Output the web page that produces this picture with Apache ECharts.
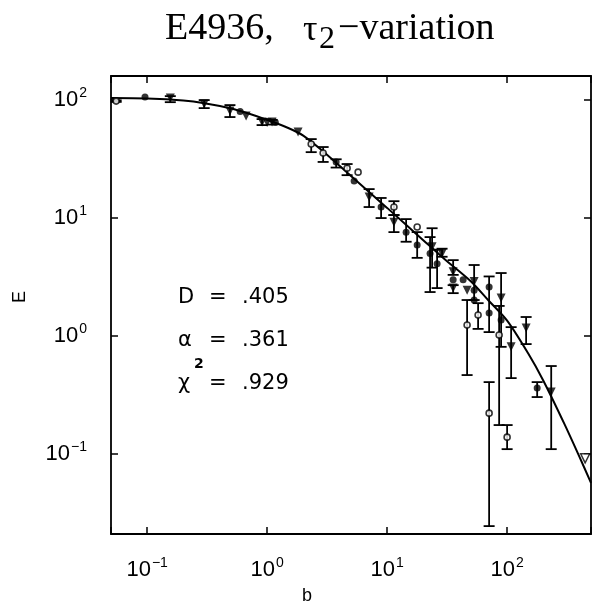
<!DOCTYPE html>
<html><head><meta charset="utf-8">
<script src="https://cdn.jsdelivr.net/npm/echarts@6/dist/echarts.min.js"></script>
<style>html,body{margin:0;padding:0;background:#fff}#c{width:602px;height:614px}</style>
</head><body><div id="c"></div>
<script>
// ---- data (b, E) ----
const filledCircles = [[0.096,106],[0.596,80],[1.17,65],[3.76,29.9],[5.31,20.6],[8.91,12.4],[14.4,7.6],[17.8,5.9],[22.8,5.0],[26.1,4.1],[35.5,3.0],[43,3.0],[53.1,2.45],[53.1,2.02],[70.8,2.6],[70.8,1.57],[89.1,1.37],[178,0.362]];
const openCircles = [[0.0552,98],[2.33,42.4],[2.93,35.6],[4.64,26.5],[5.73,24.5],[11.4,12.4],[17.8,8.4],[46.4,1.24],[57.3,1.51],[70.8,0.222],[85.8,1.02],[100,0.139]];
const triangles = [[0.156,104],[0.299,92.5],[0.49,80.7],[0.668,73.2],[0.908,65.2],[1.0,64.5],[1.1,65.2],[1.81,53.6],[7.08,15.1],[11.4,9.2],[23.7,5.7],[28.7,5.0],[35.5,3.5],[35.5,2.55],[46.4,2.45],[53.1,2.9],[89.1,2.1],[108,0.81],[144,1.17],[233,0.335]];
const openTriangles = [[447,0.092]];
// error bars: [b, low, high]
const errorBars = [[0.0552,96.5,99.5],[0.156,96,108],[0.299,85.5,100],[0.49,71.8,90.7],[0.908,61.4,69],[1.1,62,68],[2.33,36.2,46.7],[2.93,29.9,40],[3.76,26.8,31.5],[4.64,23.1,28.7],[7.08,12.4,17.6],[8.91,10,14.8],[11.4,10.6,13.9],[11.4,7.6,10.6],[14.4,6.3,9.8],[17.8,4.6,7.6],[22.8,2.36,6.9],[23.7,3.8,8.2],[26.1,2.55,5.4],[28.7,4.7,5.5],[35.5,3.3,4.4],[35.5,2.31,2.7],[46.4,0.467,2.02],[53.1,2.02,4.0],[57.3,1.15,1.9],[70.8,1.08,3.2],[89.1,0.81,3.42],[85.8,0.176,1.8],[108,0.44,1.19],[144,0.855,1.45],[178,0.304,0.407],[233,0.11,0.557],[70.8,0.0245,0.407],[100,0.11,0.176]];
// fitted curve
const fitCurve = [[0.05,104],[0.1,103],[0.2,99],[0.3,94],[0.5,85],[0.7,77],[1,68],[1.5,58],[2,50],[3,36],[5,22.7],[10,12.2],[20,6.5],[30,4.5],[50,2.9],[70,2.0],[100,1.35],[150,0.71],[200,0.42],[300,0.18],[400,0.095],[500,0.057]];
const title = ['E4936,', 'τ', '2', '−variation'];
const fitParams = [['D', '.405'], ['α', '.361'], ['χ', '.929']];

const FONT = 'Liberation Sans';
const chart = echarts.init(document.getElementById('c'));
function powFmt(v) {
  const e = Math.log10(v), r = Math.round(e);
  if (Math.abs(e - r) > 1e-6) return '';
  return '{b|10}{s|' + (r < 0 ? '−' + (-r) : r) + '}';
}
const labelRich = {
  b: {fontFamily: FONT, fontSize: 22, color: '#000'},
  s: {fontFamily: FONT, fontSize: 14, color: '#000', padding: [0, 0, 14, 1]}
};
const tickStyle = {show: true, inside: true, length: 7, lineStyle: {color: '#000', width: 1.5}};
const lineStyle = {show: true, onZero: false, lineStyle: {color: '#000', width: 1.8}};
const xBase = {type: 'log', logBase: 10, min: 0.05, max: 500, splitLine: {show: false}, axisLine: lineStyle, axisTick: tickStyle};
const yBase = {type: 'log', logBase: 10, min: 0.021, max: 160, splitLine: {show: false}, axisLine: lineStyle, axisTick: tickStyle};

function errRender(params, api) {
  const x = api.value(0), lo = api.value(1), hi = api.value(2);
  const a = api.coord([x, lo]), b = api.coord([x, hi]);
  const w = 5.5, st = {stroke: '#000', lineWidth: 1.8};
  return {type: 'group', children: [
    {type: 'line', shape: {x1: a[0], y1: a[1], x2: b[0], y2: b[1]}, style: st},
    {type: 'line', shape: {x1: a[0] - w, y1: a[1], x2: a[0] + w, y2: a[1]}, style: st},
    {type: 'line', shape: {x1: b[0] - w, y1: b[1], x2: b[0] + w, y2: b[1]}, style: st}
  ]};
}

const graphics = [
  {type: 'text', x: 165, y: 29, style: {text: title[0], font: '38px "Liberation Serif"', fill: '#000', verticalAlign: 'middle'}},
  {type: 'text', x: 303, y: 31, style: {text: title[1], font: '36px "Liberation Serif"', fill: '#000', verticalAlign: 'middle'}},
  {type: 'text', x: 319, y: 40, style: {text: title[2], font: '32px "Liberation Serif"', fill: '#000', verticalAlign: 'middle'}},
  {type: 'text', x: 338, y: 29, style: {text: title[3], font: '38px "Liberation Serif"', fill: '#000', verticalAlign: 'middle'}},
  {type: 'text', x: 20, y: 297, rotation: Math.PI / 2, style: {text: 'E', font: '18px "Liberation Sans"', fill: '#000', align: 'center', verticalAlign: 'middle'}},
  {type: 'text', x: 307, y: 596, style: {text: 'b', font: '18px "Liberation Sans"', fill: '#000', align: 'center', verticalAlign: 'middle'}}
];
const rowsY = [298, 341, 384];
fitParams.forEach((p, i) => {
  graphics.push({type: 'text', x: 178, y: rowsY[i], style: {text: p[0], font: '21px "DejaVu Sans"', fill: '#000', verticalAlign: 'middle'}});
  graphics.push({type: 'text', x: 209, y: rowsY[i], style: {text: '=', font: '21px "DejaVu Sans"', fill: '#000', verticalAlign: 'middle'}});
  graphics.push({type: 'text', x: 242, y: rowsY[i], style: {text: p[1], font: '21px "DejaVu Sans"', fill: '#000', verticalAlign: 'middle'}});
});
graphics.push({type: 'text', x: 194, y: rowsY[2] - 20, style: {text: '2', font: 'bold 14px "DejaVu Sans"', fill: '#000', verticalAlign: 'middle'}});

chart.setOption({
  animation: false,
  backgroundColor: '#fff',
  grid: {left: 111, top: 76, width: 480, height: 458, show: false},
  xAxis: [
    Object.assign({}, xBase, {position: 'bottom', axisLabel: {formatter: powFmt, rich: labelRich, margin: 22, color: '#000'}}),
    Object.assign({}, xBase, {position: 'top', axisLabel: {show: false}})
  ],
  yAxis: [
    Object.assign({}, yBase, {position: 'left', axisLabel: {formatter: powFmt, rich: labelRich, margin: 24, color: '#000'}}),
    Object.assign({}, yBase, {position: 'right', axisLabel: {show: false}})
  ],
  graphic: graphics,
  series: [
    {type: 'line', data: fitCurve, smooth: 0.3, showSymbol: false, lineStyle: {color: '#000', width: 2}, z: 2},
    {type: 'custom', data: errorBars, renderItem: errRender, encode: {x: 0, y: [1, 2]}, z: 3},
    {type: 'scatter', data: filledCircles, symbol: 'circle', symbolSize: 7, itemStyle: {color: '#000'}, z: 4},
    {type: 'scatter', data: openCircles, symbol: 'circle', symbolSize: 6, itemStyle: {color: '#fff', borderColor: '#000', borderWidth: 1.6}, z: 4},
    {type: 'scatter', data: triangles, symbol: 'triangle', symbolRotate: 180, symbolSize: 9, itemStyle: {color: '#000'}, z: 4},
    {type: 'scatter', data: openTriangles, symbol: 'triangle', symbolRotate: 180, symbolSize: 9, itemStyle: {color: '#fff', borderColor: '#000', borderWidth: 1.5}, z: 4}
  ]
});
</script></body></html>
